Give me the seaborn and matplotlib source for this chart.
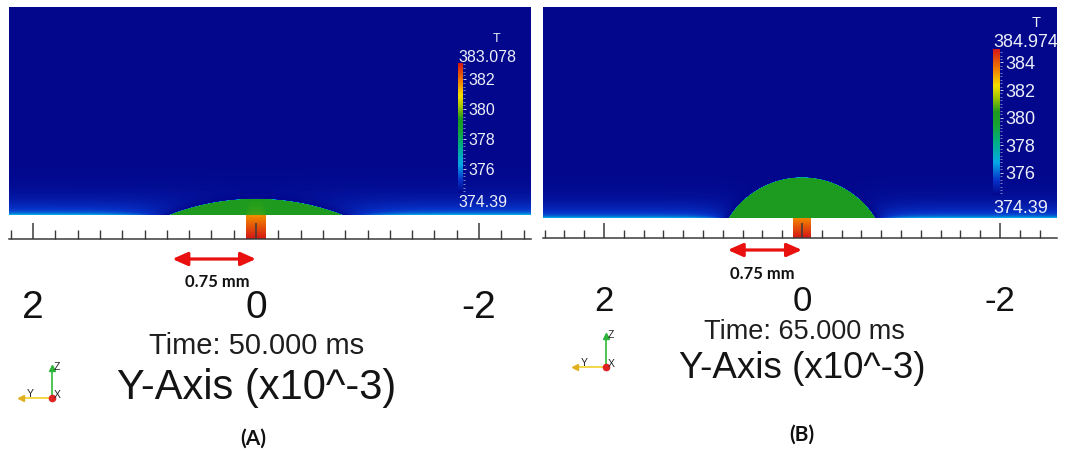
import numpy as np
import matplotlib
matplotlib.use("Agg")
import matplotlib.pyplot as plt
from matplotlib.colors import LinearSegmentedColormap
from matplotlib.ticker import MultipleLocator
import seaborn as sns

# ---------------------------------------------------------------- data
PANEL_LABELS = ["(A)", "(B)"]
TIME_LABELS = ["Time: 50.000 ms", "Time: 65.000 ms"]
T_MIN = [374.39, 374.39]
T_MAX = [383.078, 384.974]
T_MIN_LABELS = ["374.39", "374.39"]
T_MAX_LABELS = ["383.078", "384.974"]
CBAR_TICKS = [[382, 380, 378, 376], [384, 382, 380, 378, 376]]
DROPLET_HALF_WIDTH_MM = [0.78, 0.74]
DROPLET_HEIGHT_MM = [0.145, 0.41]
DROPLET_T = [379.3, 380.3]
HEATER_T_TOP = [381.7, 383.4]
HEATER_HALF_WIDTH_MM = 0.09
AXIS_TICKS = [2, 0, -2]
AXIS_TICK_LABELS = ["2", "0", "-2"]
MINOR_STEP_MM = 0.2
SCALE_BAR_MM = 0.75
SCALE_BAR_LABEL = "0.75 mm"
AXIS_TITLE = "Y-Axis (x10^-3)"

# ---------------------------------------------------------------- layout (pixels)
W, H = 1065, 451
LAYOUT = [
    dict(x0=9, x1=531, y_top=7, y_surf=215, y_base=239, x_zero=256, ppm=111.5,
         cbar=(458, 63, 463, 193), cbar_fs=11.5, tick_fs=28, tick_pad=37,
         maj_len=11.5, min_len=6.2, t_xy=(497, 39),
         top_off=0.5, bot_off=-1.5, time_xy=(257, 346), time_fs=21,
         title_xy=(257, 388), title_fs=30, arrow_y=259, sb_xy=(217, 282),
         panel_xy=(253, 439), triad=(52, 398, 33, 32), halo=0.11, neck=0.25),
    dict(x0=543, x1=1057, y_top=7, y_surf=218, y_base=238, x_zero=802, ppm=99.0,
         cbar=(993, 49, 1000, 195), cbar_fs=13, tick_fs=25, tick_pad=34,
         maj_len=10.8, min_len=5.8, t_xy=(1036, 23),
         top_off=1.5, bot_off=-3.5, time_xy=(804, 332), time_fs=19.5,
         title_xy=(802, 369), title_fs=26.5, arrow_y=250, sb_xy=(762, 274),
         panel_xy=(802, 435), triad=(606, 367, 33, 33), halo=0.13, neck=0.0),
]

# ParaView-like rainbow
cmap = LinearSegmentedColormap.from_list("rainbow_pv", [
    (0.00, "#02078C"),
    (0.10, "#0632C8"),
    (0.22, "#06A6E6"),
    (0.36, "#00AE86"),
    (0.48, "#17A332"),
    (0.57, "#1E9A1E"),
    (0.67, "#A6C600"),
    (0.75, "#F5DF00"),
    (0.86, "#F08000"),
    (1.00, "#D51616"),
])

sns.set_theme(style="white")
plt.rcParams["font.family"] = ["Liberation Sans", "DejaVu Sans"]

fig = plt.figure(figsize=(W / 100, H / 100), dpi=100)
fig.patch.set_facecolor("white")


def rect(x0, y0, x1, y1):
    return [x0 / W, 1 - y1 / H, (x1 - x0) / W, (y1 - y0) / H]


def temperature_field(k, xs, ys, ppm, y_bottom):
    tmin, tmax = T_MIN[k], T_MAX[k]
    span = tmax - tmin
    X, Y = np.meshgrid(xs, ys)
    a, h = DROPLET_HALF_WIDTH_MM[k], DROPLET_HEIGHT_MM[k]
    R = (a * a + h * h) / (2 * h)
    yc = h - R
    r = np.hypot(X, Y - yc)
    edge = 0.25 / ppm
    above = Y >= 0
    w = 0.5 * (1 + np.tanh((R - r) / edge)) * above
    d_out = np.clip(r - R, 0, None)
    halo = 1 - np.exp(-d_out / LAYOUT[k]["halo"])
    Yp = np.clip(Y, 0, None)
    wall = span * (0.17 * np.exp(-Yp / 0.11) + 0.09 * np.exp(-Yp / 0.012)) * halo
    T = tmin + wall
    hw = HEATER_HALF_WIDTH_MM
    neck = LAYOUT[k]["neck"] * np.exp(-(X / hw) ** 4) * np.exp(-Yp / 0.1)
    T = T * (1 - w) + (DROPLET_T[k] + neck) * w
    below = ~above
    slot = np.abs(X) < hw
    frac = np.clip(Y / y_bottom, 0, 1)
    heater = HEATER_T_TOP[k] + (tmax - HEATER_T_TOP[k]) * frac
    T = np.where(below & slot, heater, T)
    mask = below & ~slot
    return T, mask


# full-figure pixel canvas for free text and the orientation triads
ax_bg = fig.add_axes([0, 0, 1, 1], zorder=5)
ax_bg.set_xlim(0, W)
ax_bg.set_ylim(H, 0)
ax_bg.set_axis_off()
ax_bg.patch.set_visible(False)

for k, L in enumerate(LAYOUT):
    ppm = L["ppm"]
    left_mm = (L["x_zero"] - L["x0"]) / ppm
    right_mm = -(L["x1"] - L["x_zero"]) / ppm
    top_mm = (L["y_surf"] - L["y_top"]) / ppm
    bot_mm = -(L["y_base"] - L["y_surf"]) / ppm
    nx = L["x1"] - L["x0"]
    ny = L["y_base"] - L["y_top"]
    xs = left_mm - (np.arange(nx) + 0.5) / ppm
    ys = top_mm - (np.arange(ny) + 0.5) / ppm
    T, mask = temperature_field(k, xs, ys, ppm, bot_mm)

    box = rect(L["x0"], L["y_top"], L["x1"], L["y_base"])
    ax_map = fig.add_axes(box)
    cx0, cy0, cx1, cy1 = L["cbar"]
    cax = fig.add_axes(rect(cx0, cy0, cx1, cy1), zorder=3)
    sns.heatmap(T, mask=mask, cmap=cmap, vmin=T_MIN[k], vmax=T_MAX[k], ax=ax_map,
                cbar=True, cbar_ax=cax, xticklabels=False, yticklabels=False,
                cbar_kws={"ticks": CBAR_TICKS[k]})
    ax_map.set_axis_off()

    cbar = ax_map.collections[0].colorbar
    cbar.set_ticks(CBAR_TICKS[k], labels=[str(t) for t in CBAR_TICKS[k]])
    cbar.outline.set_visible(False)
    cbar.ax.yaxis.set_minor_locator(MultipleLocator(0.25))
    cbar.ax.tick_params(which="major", length=2.2, width=0.7, color="#C8CCE8",
                        labelcolor="#ECEEF8", labelsize=L["cbar_fs"], pad=1.5)
    cbar.ax.tick_params(which="minor", length=1.4, width=0.5, color="#A8B0E0")
    cax.annotate(T_MAX_LABELS[k], xy=(0, T_MAX[k]), xycoords=("axes fraction", "data"),
                 xytext=(0, L["top_off"]), textcoords="offset points",
                 ha="left", va="baseline", color="#ECEEF8", fontsize=L["cbar_fs"],
                 annotation_clip=False)
    cax.annotate(T_MIN_LABELS[k], xy=(0, T_MIN[k]), xycoords=("axes fraction", "data"),
                 xytext=(0, L["bot_off"]), textcoords="offset points",
                 ha="left", va="top", color="#ECEEF8", fontsize=L["cbar_fs"],
                 annotation_clip=False)
    ax_bg.text(*L["t_xy"], "T", ha="center", va="center", color="#ECEEF8",
               fontsize=L["cbar_fs"] - 2.5)

    # ruler along the substrate
    ax_o = fig.add_axes(box)
    ax_o.patch.set_visible(False)
    ax_o.set_xlim(left_mm, right_mm)
    ax_o.set_ylim(bot_mm, top_mm)
    for s in ("top", "left", "right"):
        ax_o.spines[s].set_visible(False)
    ax_o.spines["bottom"].set_color("#3A3A3A")
    ax_o.spines["bottom"].set_linewidth(1.1)
    ax_o.set_yticks([])
    ax_o.set_xticks(AXIS_TICKS, labels=AXIS_TICK_LABELS)
    ax_o.xaxis.set_minor_locator(MultipleLocator(MINOR_STEP_MM))
    ax_o.tick_params(axis="x", which="major", direction="in", length=L["maj_len"],
                     width=1.1, color="#3A3A3A", labelsize=L["tick_fs"],
                     labelcolor="#111111", pad=L["tick_pad"], bottom=True)
    ax_o.tick_params(axis="x", which="minor", direction="in", length=L["min_len"],
                     width=1.0, color="#3A3A3A", bottom=True)

    # scale bar
    ax_o.annotate("", xy=(0, H - L["arrow_y"]), xytext=(SCALE_BAR_MM, H - L["arrow_y"]),
                  xycoords=("data", "figure pixels"), textcoords=("data", "figure pixels"),
                  arrowprops=dict(arrowstyle="<|-|>,head_length=0.45,head_width=0.2",
                                  color="#E8110F", lw=2.3, mutation_scale=20,
                                  shrinkA=0, shrinkB=0),
                  annotation_clip=False)
    ax_bg.text(*L["sb_xy"], SCALE_BAR_LABEL, ha="center", va="center",
               fontsize=12, fontweight="bold", family=["Lato", "DejaVu Sans"],
               color="#111111")

    ax_bg.text(*L["time_xy"], TIME_LABELS[k], ha="center", va="center",
               fontsize=L["time_fs"], color="#1E1E1E")
    ax_bg.text(*L["title_xy"], AXIS_TITLE, ha="center", va="center",
               fontsize=L["title_fs"], color="#141414")
    ax_bg.text(*L["panel_xy"], PANEL_LABELS[k], ha="center", va="center",
               fontsize=15, fontweight="bold", family=["Lato", "DejaVu Sans"],
               color="#111111")

    # orientation triad
    ox, oy, ly, lz = L["triad"]
    ax_bg.plot([ox, ox - ly], [oy, oy], color="#F2D33A", lw=1.3, solid_capstyle="butt")
    ax_bg.plot([ox, ox], [oy, oy - lz], color="#3FC24A", lw=1.3, solid_capstyle="butt")
    ax_bg.plot([ox - ly + 2], [oy], marker="<", color="#E0B020", ms=4.5)
    ax_bg.plot([ox], [oy - lz + 2], marker="^", color="#2DB23A", ms=4.5)
    ax_bg.plot([ox], [oy], marker="o", color="#E02222", ms=4.5)
    ax_bg.text(ox + 2, oy - lz + 1, "Z", fontsize=7.5, color="#222222", va="center")
    ax_bg.text(ox - ly + 8, oy - 4, "Y", fontsize=7.5, color="#222222", va="center")
    ax_bg.text(ox + 2, oy - 3, "X", fontsize=7.5, color="#222222", va="center")

fig.savefig("out.png", dpi=100, facecolor="white")
